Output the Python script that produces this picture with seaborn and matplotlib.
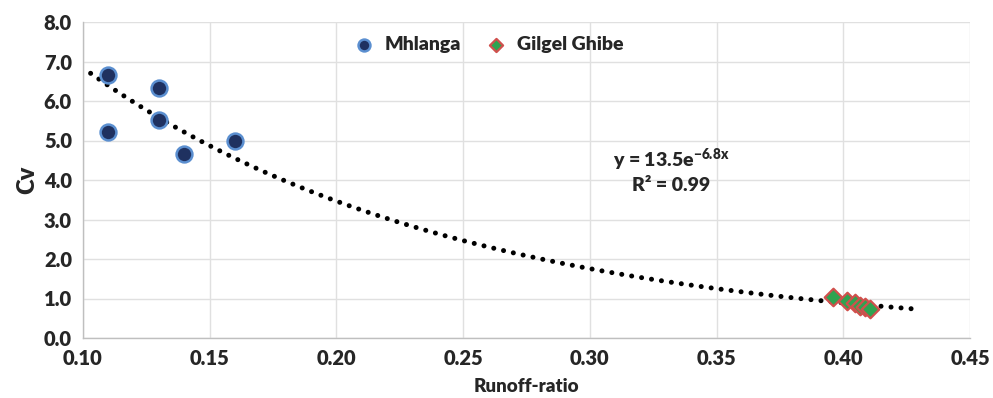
import numpy as np
import pandas as pd
import matplotlib
matplotlib.use("Agg")
import matplotlib.pyplot as plt
import seaborn as sns

# Data
mhlanga_x = [0.11, 0.11, 0.13, 0.13, 0.14, 0.16]
mhlanga_y = [6.65, 5.22, 6.33, 5.52, 4.65, 5.00]
gilgel_x = [0.396, 0.4016, 0.4047, 0.4067, 0.4087, 0.4106]
gilgel_y = [1.04, 0.94, 0.89, 0.82, 0.78, 0.73]
fit_a = 13.5
fit_b = -6.8
fit_range = [0.103, 0.428]
x_ticks = [0.10, 0.15, 0.20, 0.25, 0.30, 0.35, 0.40, 0.45]
y_ticks = [0, 1, 2, 3, 4, 5, 6, 7, 8]

sns.set_theme(style="white")
plt.rcParams['font.family'] = ['Lato', 'DejaVu Sans']
plt.rcParams['font.weight'] = 'heavy'
plt.rcParams['mathtext.fontset'] = 'custom'
plt.rcParams['mathtext.rm'] = 'Lato:heavy'
plt.rcParams['mathtext.bf'] = 'Lato:heavy'
plt.rcParams['mathtext.it'] = 'Lato:heavy'
W = 'heavy'

df = pd.DataFrame({
    "x": mhlanga_x + gilgel_x,
    "y": mhlanga_y + gilgel_y,
    "site": ["Mhlanga"] * len(mhlanga_x) + ["Gilgel Ghibe"] * len(gilgel_x),
})

fig = plt.figure(figsize=(9.93, 3.98), dpi=100)
ax = fig.add_axes([83/993, 1-338/398, (970-83)/993, (338-22)/398])

ax.grid(True, color="#e0e0e0", linewidth=1.0)
ax.set_axisbelow(True)

# trendline
xs = np.linspace(fit_range[0], fit_range[1], 200)
ax.plot(xs, fit_a*np.exp(fit_b*xs), color="black", linewidth=3.6,
        linestyle=(0, (0.01, 2.0)), dash_capstyle="round", zorder=2)

sns.scatterplot(data=df[df.site == "Mhlanga"], x="x", y="y", ax=ax,
                marker="o", s=130, color="#1f3160", edgecolor="#5b8fd0",
                linewidth=1.8, label="Mhlanga", zorder=3)
sns.scatterplot(data=df[df.site == "Gilgel Ghibe"], x="x", y="y", ax=ax,
                marker="D", s=80, color="#2ea350", edgecolor="#d0504d",
                linewidth=1.6, label="Gilgel Ghibe", zorder=4)

ax.set_xlim(0.10, 0.45)
ax.set_ylim(0, 8)
ax.set_xticks(x_ticks)
ax.set_yticks(y_ticks)
ax.set_xticklabels([f"{v:.2f}" for v in x_ticks], fontsize=14.5, fontweight=W)
ax.set_yticklabels([f"{v:.1f}" for v in y_ticks], fontsize=14.5, fontweight=W)
ax.tick_params(axis="both", length=0, pad=8)
ax.set_xlabel("Runoff-ratio", fontsize=13.5, fontweight=W, labelpad=7)
ax.set_ylabel("Cv", fontsize=17, fontweight=W, labelpad=4)

for s in ["top", "right"]:
    ax.spines[s].set_visible(False)
for s in ["left", "bottom"]:
    ax.spines[s].set_color("#bfbfbf")
    ax.spines[s].set_linewidth(1.0)

ax.text(0.332, 4.5, r"y = 13.5e$^{\mathrm{-6.8x}}$", fontsize=14, fontweight=W,
        ha="center", va="center")
ax.text(0.332, 3.85, "R² = 0.99", fontsize=14, fontweight=W,
        ha="center", va="center")

leg = ax.legend(loc="upper center", bbox_to_anchor=(0.452, 1.0), ncol=2, frameon=False,
                fontsize=14, handletextpad=0.05, columnspacing=0.8, markerscale=0.75,
                borderaxespad=0.3)
for t in leg.get_texts():
    t.set_fontweight(W)

fig.savefig("out.png", dpi=100)
